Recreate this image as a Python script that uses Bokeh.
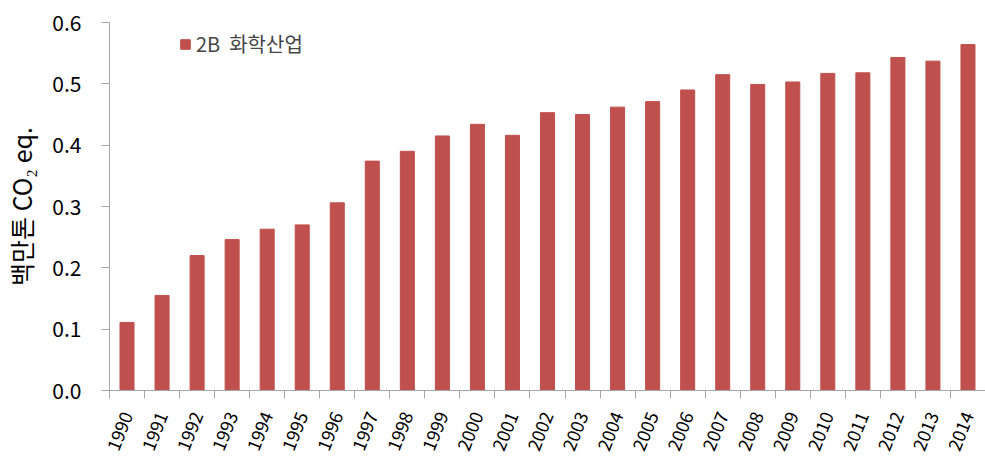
from bokeh.plotting import figure
from bokeh.models import FixedTicker, Legend, LegendItem, NumeralTickFormatter, Range1d
from bokeh.embed import file_html
from bokeh.resources import INLINE

years = list(range(1990, 2015))
values = [0.111, 0.155, 0.220, 0.246, 0.263, 0.270, 0.306, 0.374, 0.390, 0.415,
          0.434, 0.416, 0.453, 0.450, 0.462, 0.471, 0.490, 0.515, 0.499, 0.503,
          0.517, 0.518, 0.543, 0.537, 0.564]
series_name = "2B  화학산업"
y_label = "백만톤 CO₂ eq."
y_ticks = [0.0, 0.1, 0.2, 0.3, 0.4, 0.5, 0.6]

FONT = "Noto Sans CJK KR"
AXIS_COLOR = "#a6a6a6"
BAR_COLOR = "#C0504D"

p = figure(width=985, height=457, output_backend="svg", toolbar_location=None,
           x_range=Range1d(years[0] - 0.5, years[-1] + 0.5),
           y_range=Range1d(0, 0.6),
           min_border_left=109, min_border_top=22, min_border_right=0, min_border_bottom=66)
p.outline_line_color = None
p.xgrid.visible = False
p.ygrid.visible = False

r = p.vbar(x=years, top=values, width=0.4, fill_color=BAR_COLOR, line_color=BAR_COLOR)

# x axis
p.xaxis.ticker = FixedTicker(ticks=years,
                             minor_ticks=[y - 0.5 for y in years] + [years[-1] + 0.5])
p.xaxis.major_tick_out = 0
p.xaxis.major_tick_in = 0
p.xaxis.minor_tick_out = 8
p.xaxis.minor_tick_in = 0
p.xaxis.minor_tick_line_color = AXIS_COLOR
p.xaxis.axis_line_color = AXIS_COLOR
p.xaxis.major_label_orientation = 1.19
p.xaxis.major_label_text_font = FONT
p.xaxis.major_label_text_font_size = "18px"
p.xaxis.major_label_text_color = "#000000"
p.xaxis.major_label_standoff = 14

# y axis
p.yaxis.ticker = FixedTicker(ticks=y_ticks)
p.yaxis.formatter = NumeralTickFormatter(format="0.0")
p.yaxis.major_tick_out = 8
p.yaxis.major_tick_in = 0
p.yaxis.minor_tick_line_color = None
p.yaxis.major_tick_line_color = AXIS_COLOR
p.yaxis.axis_line_color = AXIS_COLOR
p.yaxis.major_label_text_font = FONT
p.yaxis.major_label_text_font_size = "21px"
p.yaxis.major_label_text_color = "#000000"
p.yaxis.major_label_standoff = 20
p.yaxis.axis_label = y_label
p.yaxis.axis_label_text_font = FONT
p.yaxis.axis_label_text_font_size = "25px"
p.yaxis.axis_label_text_font_style = "normal"
p.yaxis.axis_label_text_color = "#000000"
p.yaxis.axis_label_standoff = 10

legend = Legend(items=[LegendItem(label=series_name, renderers=[r])],
                location=(70, 332), border_line_color=None, background_fill_alpha=0,
                label_text_font=FONT, label_text_font_size="20px",
                glyph_width=12, glyph_height=12, label_standoff=5, padding=4)
p.add_layout(legend)

open("out.html", "w").write(file_html(p, INLINE))
